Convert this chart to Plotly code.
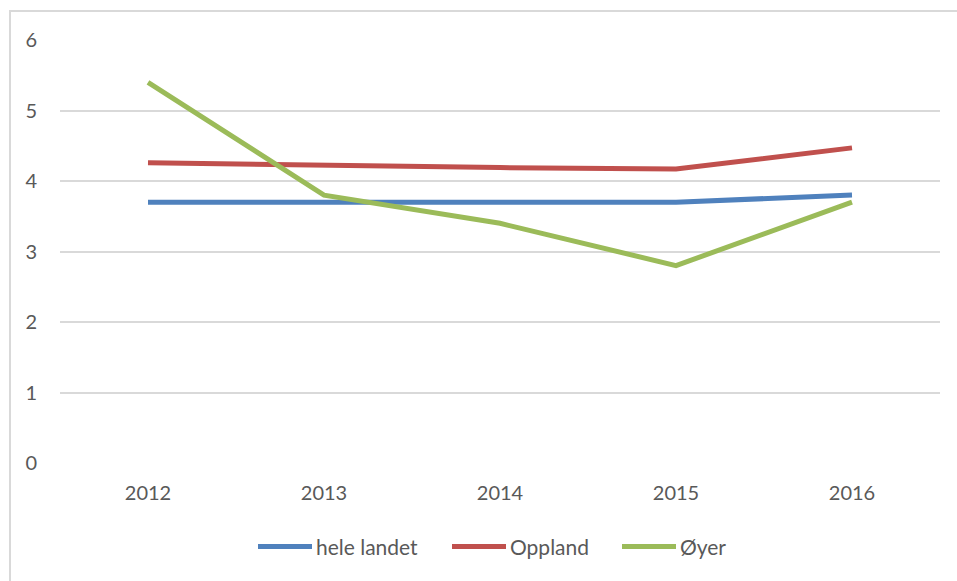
import plotly.graph_objects as go

years = ["2012", "2013", "2014", "2015", "2016"]
hele_landet = [3.7, 3.7, 3.7, 3.7, 3.8]
oppland = [4.26, 4.22, 4.19, 4.17, 4.47]
oyer = [5.4, 3.8, 3.4, 2.8, 3.7]

series = [
    ("hele landet", hele_landet, "#4F81BD"),
    ("Oppland", oppland, "#C0504D"),
    ("Øyer", oyer, "#9BBB59"),
]

W, H = 957, 581
M_L, M_R, M_T, M_B = 60, 17, 40, 117.5
plot_w = W - M_L - M_R
plot_h = H - M_T - M_B


def px_to_paper_x(px):
    return (px - M_L) / plot_w


def px_to_paper_y(py):
    return (H - M_B - py) / plot_h


font_family = "Lato, 'Open Sans', sans-serif"
text_color = "#595959"

fig = go.Figure()
for name, values, color in series:
    fig.add_trace(go.Scatter(
        x=years, y=values, name=name, mode="lines",
        line=dict(color=color, width=5), showlegend=False,
    ))

# Legend drawn below the plot: a short line sample followed by the label
legend_line_starts = [258, 452, 622]
legend_line_len = 54
legend_y = px_to_paper_y(547)
shapes = [
    dict(type="rect", xref="paper", yref="paper",
         x0=px_to_paper_x(10), x1=1.2, y0=-0.5, y1=px_to_paper_y(11),
         line=dict(color="#d9d9d9", width=2), layer="below"),
]
annotations = []
for (name, _, color), start in zip(series, legend_line_starts):
    shapes.append(dict(
        type="line", xref="paper", yref="paper",
        x0=px_to_paper_x(start), x1=px_to_paper_x(start + legend_line_len),
        y0=legend_y, y1=legend_y, line=dict(color=color, width=5),
    ))
    annotations.append(dict(
        xref="paper", yref="paper", x=px_to_paper_x(start + legend_line_len + 2),
        y=legend_y, xanchor="left", yanchor="middle", text=name,
        showarrow=False, font=dict(family=font_family, size=21, color=text_color),
    ))

fig.update_layout(
    width=W, height=H,
    margin=dict(l=M_L, r=M_R, t=M_T, b=M_B),
    paper_bgcolor="white", plot_bgcolor="white",
    font=dict(family=font_family, size=20, color=text_color),
    showlegend=False,
    xaxis=dict(
        type="category", range=[-0.5, 4.5], showgrid=False, zeroline=False,
        showline=False, ticks="", ticklabelstandoff=16, automargin=False,
        tickfont=dict(size=20, color=text_color),
    ),
    yaxis=dict(
        range=[0, 6], dtick=1, showgrid=True, gridcolor="#d9d9d9", gridwidth=1.5,
        zeroline=False, showline=False, ticks="", ticklabelstandoff=22,
        automargin=False, tickfont=dict(size=20, color=text_color),
    ),
    shapes=shapes,
    annotations=annotations,
)

fig.write_html("out.html")
